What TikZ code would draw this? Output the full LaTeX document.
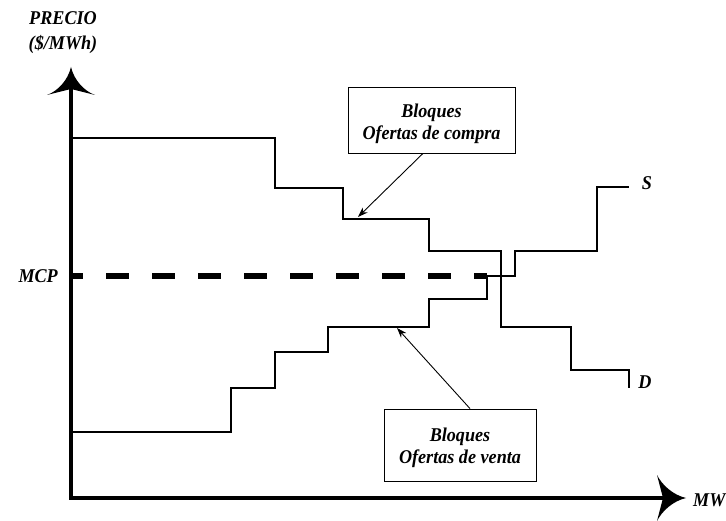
\documentclass[tikz,border=0pt]{standalone}
\usepackage{fontspec}
\setmainfont{Liberation Serif}[FakeStretch=0.93]
\usetikzlibrary{arrows.meta}
\tikzset{
  lbl/.style={font=\fontsize{19.5}{23}\selectfont\bfseries\itshape, inner sep=0pt},
  curve/.style={line width=2pt, line join=miter, line cap=butt},
  axis/.style={line width=4.8pt, line join=miter, line cap=butt},
  headfill/.style={fill=black, draw=none},
  box/.style={draw, line width=0.8pt, align=center, inner sep=0pt, font=\fontsize{19.5}{22}\selectfont\bfseries\itshape},
  pointer/.style={line width=0.9pt, -{Stealth[length=10pt,width=7pt]}},
  mcpline/.style={line width=6pt, line cap=butt, dash pattern=on 22.7pt off 23.3pt, dash phase=10.7pt}
}
\begin{document}
\begin{tikzpicture}[x=1pt,y=1pt]
\useasboundingbox (0,0) rectangle (726,520);
% axes
\coordinate (O) at (71,22);
\coordinate (ytop) at (71,440);
\coordinate (xend) at (668,22);
\draw[axis] (ytop) -- (O) -- (xend);
% vertical arrow head
\fill[headfill] (71,453) .. controls (74,440) and (84,429) .. (95,425)
  -- (71,431) -- (47,425) .. controls (58,429) and (68,440) .. (71,453) -- cycle;
% horizontal arrow head
\fill[headfill] (686,22) .. controls (673,25) and (662,35) .. (657,45)
  -- (663,22) -- (657,-1) .. controls (662,9) and (673,19) .. (686,22) -- cycle;
% labels
\node[lbl, align=center] (precio) at (63,487) {PRECIO\\[2pt](\$/MWh)};
\node[lbl, anchor=east] (mcp) at (58,244) {MCP};
\node[lbl] (slab) at (647,337) {S};
\node[lbl] (dlab) at (645,138) {D};
\node[lbl, anchor=west] (mw) at (693,20) {MW};
% MCP dashed line
\coordinate (m0) at (71,244);
\coordinate (m1) at (487,244);
\draw[mcpline] (m0) -- (m1);
% demand curve
\draw[curve] (71,382) -- (275,382) -- (275,332) -- (343,332) -- (343,301) -- (429,301)
  -- (429,269) -- (501,269) -- (501,193) -- (571,193) -- (571,150) -- (629,150) -- (629,132);
% supply curve
\draw[curve] (71,88) -- (231,88) -- (231,132) -- (275,132) -- (275,168) -- (328,168)
  -- (328,193) -- (429,193) -- (429,221) -- (487,221) -- (487,244) -- (515,244)
  -- (515,269) -- (597,269) -- (597,333) -- (629,333);
% boxes
\node[box, minimum width=167pt, minimum height=66pt] (compra) at (431.5,400) {\rule{0pt}{22pt}Bloques\\Ofertas de compra};
\node[box, minimum width=152pt, minimum height=72pt] (venta) at (460,75) {\rule{0pt}{19pt}Bloques\\Ofertas de venta};
\coordinate (dtip) at (358,303);
\coordinate (stip) at (397,192);
\draw[pointer] ([xshift=-8.5pt]compra.south) -- (dtip);
\draw[pointer] ([xshift=10pt]venta.north) -- (stip);
\end{tikzpicture}
\end{document}
